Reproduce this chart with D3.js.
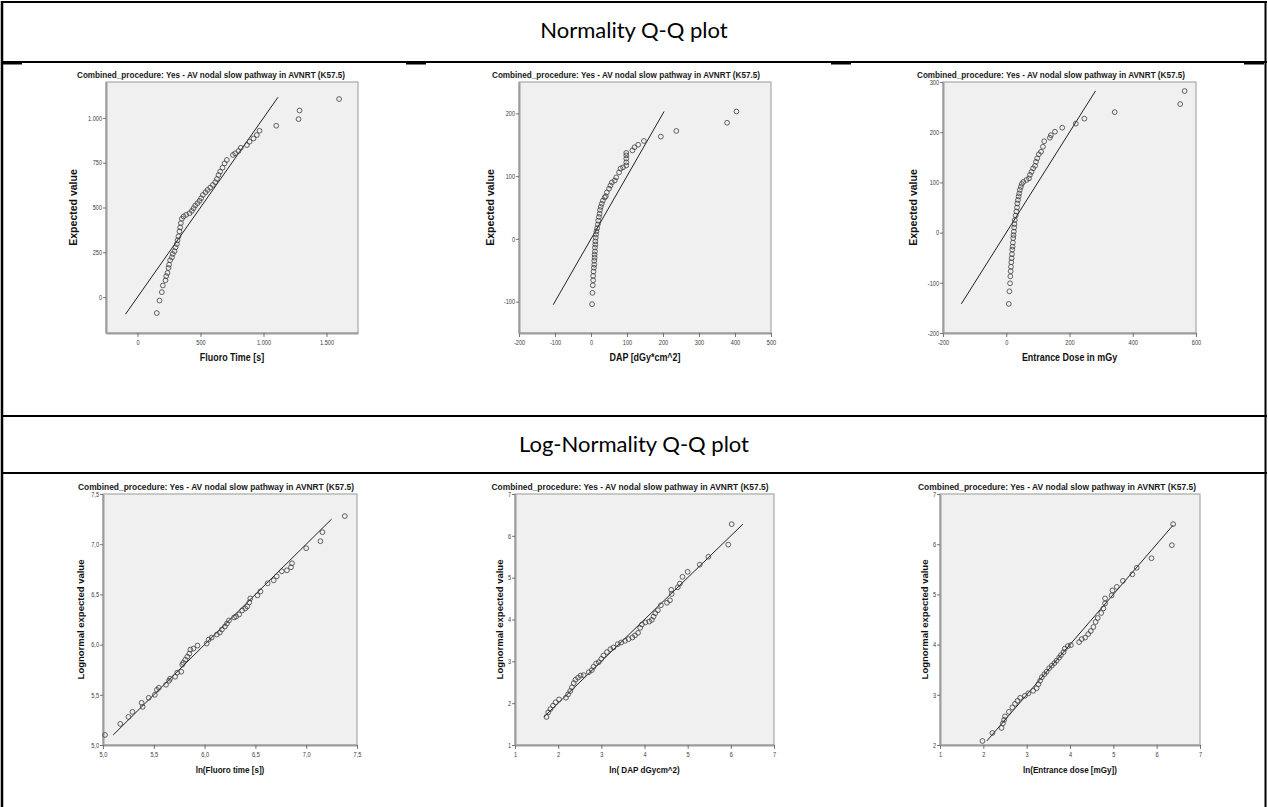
<!DOCTYPE html>
<html>
<head>
<meta charset="utf-8">
<script src="https://cdn.jsdelivr.net/npm/d3@7"></script>
<style>
  html, body { margin: 0; padding: 0; background: #ffffff; }
  svg { display: block; }
</style>
</head>
<body>
<svg id="chart" width="1268" height="807"></svg>
<script>
// ---------- Section headings ----------
const sectionTitles = ["Normality Q-Q plot", "Log-Normality Q-Q plot"];
const panelTitle = "Combined_procedure: Yes - AV nodal slow pathway in AVNRT (K57.5)";

// ---------- Fluoroscopy time (normal Q-Q) ----------
const fluoroObserved = [153,175,193,201,222,228,238,246,251,259,273,280,294,302,312,318,325,333,339,344,352,365,386,413,431,445,458,476,492,505,519,540,556,577,598,617,630,643,656,675,691,709,757,775,802,820,868,889,921,947,968,1101,1278,1286,1600];
const fluoroExpected = [-89,-19,28,65,94,117,135,163,181,206,222,241,256,278,296,317,339,367,389,413,437,450,459,468,481,496,511,524,537,552,570,585,598,611,626,641,659,681,700,722,746,765,793,802,815,833,848,867,885,904,928,956,993,1041,1105];
const fluoroRefLine = [-95, 1115];
const fluoroXTicks = [0, 500, 1000, 1500];
const fluoroYTicks = [0, 250, 500, 750, 1000];

// ---------- Dose area product (normal Q-Q) ----------
const dapObserved = [3,4,5,6,6,7,8,9,9,10,10,11,11,12,12,13,14,15,17,19,20,22,24,25,27,30,33,38,41,44,50,54,58,66,70,78,82,89,98,98,98,98,98,115,121,131,147,194,237,378,404];
const dapExpected = [-104,-86,-74,-66,-59,-52,-46,-41,-35,-30,-25,-20,-14,-9,-4,2,7,12,17,23,29,35,40,46,51,56,61,66,68,74,80,85,90,93,98,106,112,114,117,122,128,133,137,141,146,150,156,163,172,185,203];
const dapRefLine = [-105, 203];
const dapXTicks = [-200, -100, 0, 100, 200, 300, 400, 500];
const dapYTicks = [-100, 0, 100, 200];

// ---------- Entrance dose (normal Q-Q) ----------
const doseObserved = [8,10,12,13,14,15,16,17,18,19,20,21,22,23,24,25,26,27,30,32,34,35,37,39,41,43,46,49,54,64,72,75,80,85,91,94,98,103,110,116,120,138,141,154,177,220,247,343,550,564];
const doseExpected = [-142,-117,-101,-87,-77,-68,-59,-51,-43,-34,-28,-20,-11,-5,2,10,17,25,34,42,50,58,65,72,78,85,91,97,101,105,108,115,121,128,133,141,148,156,161,171,182,189,194,201,209,217,227,240,256,282];
const doseRefLine = [-142, 282];
const doseXTicks = [-200, 0, 200, 400, 600];
const doseYTicks = [-200, -100, 0, 100, 200, 300];

// ---------- ln(Fluoroscopy time) (lognormal Q-Q) ----------
const lnFluoroObserved = [5.02,5.17,5.25,5.29,5.39,5.38,5.45,5.51,5.53,5.55,5.62,5.65,5.66,5.71,5.73,5.77,5.78,5.79,5.81,5.83,5.85,5.86,5.89,5.93,6.02,6.04,6.07,6.12,6.15,6.17,6.20,6.22,6.24,6.29,6.31,6.34,6.37,6.40,6.42,6.44,6.45,6.52,6.55,6.62,6.68,6.71,6.76,6.81,6.85,6.86,7.00,7.14,7.16,7.38];
const lnFluoroExpected = [5.10,5.21,5.28,5.33,5.38,5.42,5.47,5.50,5.55,5.57,5.60,5.64,5.66,5.68,5.72,5.73,5.80,5.82,5.85,5.88,5.91,5.95,5.96,5.99,6.01,6.05,6.07,6.10,6.12,6.15,6.18,6.21,6.24,6.27,6.28,6.30,6.34,6.36,6.38,6.42,6.46,6.49,6.53,6.61,6.64,6.68,6.73,6.74,6.77,6.81,6.96,7.03,7.12,7.28];
const lnFluoroRefLine = [5.10, 7.25];
const lnFluoroTicks = [5.0, 5.5, 6.0, 6.5, 7.0, 7.5];

// ---------- ln(DAP) (lognormal Q-Q) ----------
const lnDapObserved = [1.73,1.77,1.82,1.88,1.94,2.02,2.18,2.23,2.28,2.32,2.36,2.40,2.46,2.52,2.59,2.71,2.78,2.82,2.88,2.94,3.00,3.05,3.13,3.21,3.28,3.38,3.46,3.55,3.63,3.72,3.78,3.85,3.90,3.94,4.02,4.11,4.17,4.21,4.25,4.31,4.38,4.52,4.59,4.63,4.62,4.77,4.82,4.88,5.00,5.28,5.48,5.94,6.02];
const lnDapExpected = [1.67,1.78,1.86,1.94,2.02,2.09,2.13,2.21,2.29,2.38,2.48,2.56,2.61,2.66,2.67,2.74,2.79,2.87,2.95,2.98,3.06,3.14,3.22,3.29,3.33,3.41,3.45,3.49,3.53,3.57,3.62,3.68,3.80,3.88,3.93,3.95,3.99,4.07,4.15,4.22,4.34,4.40,4.46,4.61,4.71,4.77,4.86,5.02,5.14,5.31,5.50,5.79,6.28];
const lnDapRefLine = [1.67, 6.28];
const lnDapXTicks = [1, 2, 3, 4, 5, 6, 7];
const lnDapYTicks = [1, 2, 3, 4, 5, 6, 7];

// ---------- ln(Entrance dose) (lognormal Q-Q) ----------
const lnDoseObserved = [1.98,2.21,2.42,2.45,2.48,2.50,2.59,2.67,2.73,2.79,2.85,2.96,3.04,3.15,3.23,3.27,3.31,3.35,3.41,3.46,3.52,3.58,3.64,3.69,3.75,3.79,3.85,3.88,3.95,4.02,4.21,4.27,4.35,4.42,4.48,4.54,4.59,4.64,4.72,4.77,4.81,4.81,4.96,4.98,5.08,5.22,5.44,5.54,5.88,6.35,6.38];
const lnDoseExpected = [2.08,2.24,2.34,2.43,2.50,2.57,2.66,2.75,2.82,2.88,2.94,2.98,3.03,3.08,3.13,3.21,3.28,3.35,3.41,3.46,3.53,3.58,3.63,3.68,3.74,3.79,3.85,3.92,3.97,3.99,4.05,4.11,4.14,4.21,4.27,4.35,4.45,4.53,4.63,4.72,4.82,4.92,4.98,5.08,5.15,5.27,5.40,5.53,5.72,5.98,6.40];
const lnDoseRefLine = [2.08, 6.38];
const lnDoseXTicks = [1, 2, 3, 4, 5, 6, 7];
const lnDoseYTicks = [2, 3, 4, 5, 6, 7];

// European number formatting (1.000 / 5,0)
const euro = d3.formatLocale({ decimal: ",", thousands: ".", grouping: [3], currency: ["", " €"], minus: "-" });
const fmtInt = euro.format(",d");
const fmtOne = euro.format(".1f");

const svg = d3.select("#chart");
const chartFont = "'Liberation Sans', Arial, Helvetica, sans-serif";
const headFont = "Lato, 'Open Sans', 'Noto Sans', sans-serif";

// squeeze horizontal text a little, like a horizontally scaled export
function squeeze(sel, factor) {
  sel.each(function () {
    const len = this.getComputedTextLength();
    d3.select(this).attr("textLength", len * factor).attr("lengthAdjust", "spacingAndGlyphs");
  });
}

// ---------- Table rules ----------
const table = svg.append("g").attr("stroke", "#000");
table.append("line").attr("x1", 2).attr("x2", 2).attr("y1", 1).attr("y2", 807).attr("stroke-width", 2.5);
table.append("line").attr("x1", 1265.5).attr("x2", 1265.5).attr("y1", 1).attr("y2", 807).attr("stroke-width", 2);
[2, 62, 416, 473].forEach(yy => {
  table.append("line").attr("x1", 1).attr("x2", 1267).attr("y1", yy).attr("y2", yy).attr("stroke-width", 2);
});
[12, 416, 841, 1254].forEach(cx => {
  svg.append("rect").attr("x", cx - 10).attr("y", 62).attr("width", 20).attr("height", 2.5).attr("fill", "#000");
});

svg.append("text").attr("x", 634).attr("y", 38).attr("text-anchor", "middle")
  .style("font-family", headFont).style("font-size", "22px").attr("fill", "#000").text(sectionTitles[0]);
svg.append("text").attr("x", 634).attr("y", 452).attr("text-anchor", "middle")
  .style("font-family", headFont).style("font-size", "22px").attr("fill", "#000").text(sectionTitles[1]);

// ---------- Panels ----------
const panels = [
  { obs: fluoroObserved, exp: fluoroExpected, ref: fluoroRefLine, frame: [106, 82, 358, 333],
    xDomain: [-250, 1750], yDomain: [-200, 1200], xTicks: fluoroXTicks, yTicks: fluoroYTicks, fmt: fmtInt,
    titleX: 211, titleY: 78, titleLen: 268, xTitle: "Fluoro Time [s]", yTitle: "Expected value", yTitleX: 73, fs: 10.5 },
  { obs: dapObserved, exp: dapExpected, ref: dapRefLine, frame: [519, 82, 771, 333],
    xDomain: [-200, 500], yDomain: [-150, 250], xTicks: dapXTicks, yTicks: dapYTicks, fmt: fmtInt,
    titleX: 626, titleY: 78, titleLen: 268, xTitle: "DAP [dGy*cm^2]", yTitle: "Expected value", yTitleX: 490, fs: 10.5 },
  { obs: doseObserved, exp: doseExpected, ref: doseRefLine, frame: [943, 82, 1196, 333],
    xDomain: [-200, 600], yDomain: [-200, 300], xTicks: doseXTicks, yTicks: doseYTicks, fmt: fmtInt,
    titleX: 1051, titleY: 78, titleLen: 268, xTitle: "Entrance Dose in mGy", yTitle: "Expected value", yTitleX: 913, fs: 10.5 },
  { obs: lnFluoroObserved, exp: lnFluoroExpected, ref: lnFluoroRefLine, frame: [103, 494, 357, 745],
    xDomain: [5, 7.5], yDomain: [5, 7.5], xTicks: lnFluoroTicks, yTicks: lnFluoroTicks, fmt: fmtOne,
    titleX: 216, titleY: 490, titleLen: 276, xTitle: "ln(Fluoro time [s])", yTitle: "Lognormal expected value", yTitleX: 81, fs: 9.5 },
  { obs: lnDapObserved, exp: lnDapExpected, ref: lnDapRefLine, frame: [515, 494, 774, 745],
    xDomain: [1, 7], yDomain: [1, 7], xTicks: lnDapXTicks, yTicks: lnDapYTicks, fmt: fmtInt,
    titleX: 630, titleY: 490, titleLen: 277, xTitle: "ln( DAP dGycm^2)", yTitle: "Lognormal expected value", yTitleX: 500, fs: 9.5 },
  { obs: lnDoseObserved, exp: lnDoseExpected, ref: lnDoseRefLine, frame: [940, 494, 1200, 745],
    xDomain: [1, 7], yDomain: [2, 7], xTicks: lnDoseXTicks, yTicks: lnDoseYTicks, fmt: fmtInt,
    titleX: 1057, titleY: 490, titleLen: 278, xTitle: "ln(Entrance dose [mGy])", yTitle: "Lognormal expected value", yTitleX: 925, fs: 9.5 }
];

panels.forEach(p => {
  const [x0, y0, x1, y1] = p.frame;
  const x = d3.scaleLinear().domain(p.xDomain).range([x0, x1]);
  const y = d3.scaleLinear().domain(p.yDomain).range([y1, y0]);
  const g = svg.append("g").style("font-family", chartFont);

  // plot area
  g.append("rect").attr("x", x0).attr("y", y0).attr("width", x1 - x0).attr("height", y1 - y0)
    .attr("fill", "#f0f0f0").attr("stroke", "#a8a8a8").attr("stroke-width", 1.2);

  // axes
  const gx = g.append("g").attr("transform", `translate(0,${y1})`)
    .call(d3.axisBottom(x).tickValues(p.xTicks).tickFormat(p.fmt).tickSize(4).tickSizeOuter(0).tickPadding(3));
  const gy = g.append("g").attr("transform", `translate(${x0},0)`)
    .call(d3.axisLeft(y).tickValues(p.yTicks).tickFormat(p.fmt).tickSize(3).tickSizeOuter(0).tickPadding(1));
  [gx, gy].forEach(a => {
    a.select(".domain").attr("stroke", "#9c9c9c").attr("stroke-width", 2);
    a.selectAll(".tick line").attr("stroke", "#555").attr("stroke-width", 0.8);
    a.selectAll(".tick text").attr("fill", "#3a3a3a").style("font-size", "7px").style("font-family", chartFont);
  });
  squeeze(gx.selectAll(".tick text"), 0.8);
  squeeze(gy.selectAll(".tick text"), 0.8);

  // reference line y = x
  g.append("line")
    .attr("x1", x(p.ref[0])).attr("y1", y(p.ref[0]))
    .attr("x2", x(p.ref[1])).attr("y2", y(p.ref[1]))
    .attr("stroke", "#222").attr("stroke-width", 1);

  // observed vs expected points
  g.selectAll("circle.pt").data(d3.zip(p.obs, p.exp)).join("circle").attr("class", "pt")
    .attr("cx", d => x(d[0])).attr("cy", d => y(d[1])).attr("r", 2.4)
    .attr("fill", "none").attr("stroke", "#3c3c3c").attr("stroke-width", 0.8);

  // titles
  g.append("text").attr("x", p.titleX).attr("y", p.titleY).attr("text-anchor", "middle")
    .style("font-size", "9px").style("font-weight", "bold").attr("fill", "#1a1a1a")
    .attr("textLength", p.titleLen).attr("lengthAdjust", "spacingAndGlyphs").text(panelTitle);

  const xt = g.append("text").attr("x", (x0 + x1) / 2).attr("y", y1 + 28).attr("text-anchor", "middle")
    .style("font-size", p.fs + "px").style("font-weight", "bold").attr("fill", "#111").text(p.xTitle);
  squeeze(xt, 0.85);

  g.append("text").attr("transform", `translate(${p.yTitleX},${(y0 + y1) / 2}) rotate(-90)`)
    .attr("text-anchor", "middle").attr("dy", "0.35em")
    .style("font-size", p.fs + "px").style("font-weight", "bold").attr("fill", "#111").text(p.yTitle);
});
</script>
</body>
</html>
